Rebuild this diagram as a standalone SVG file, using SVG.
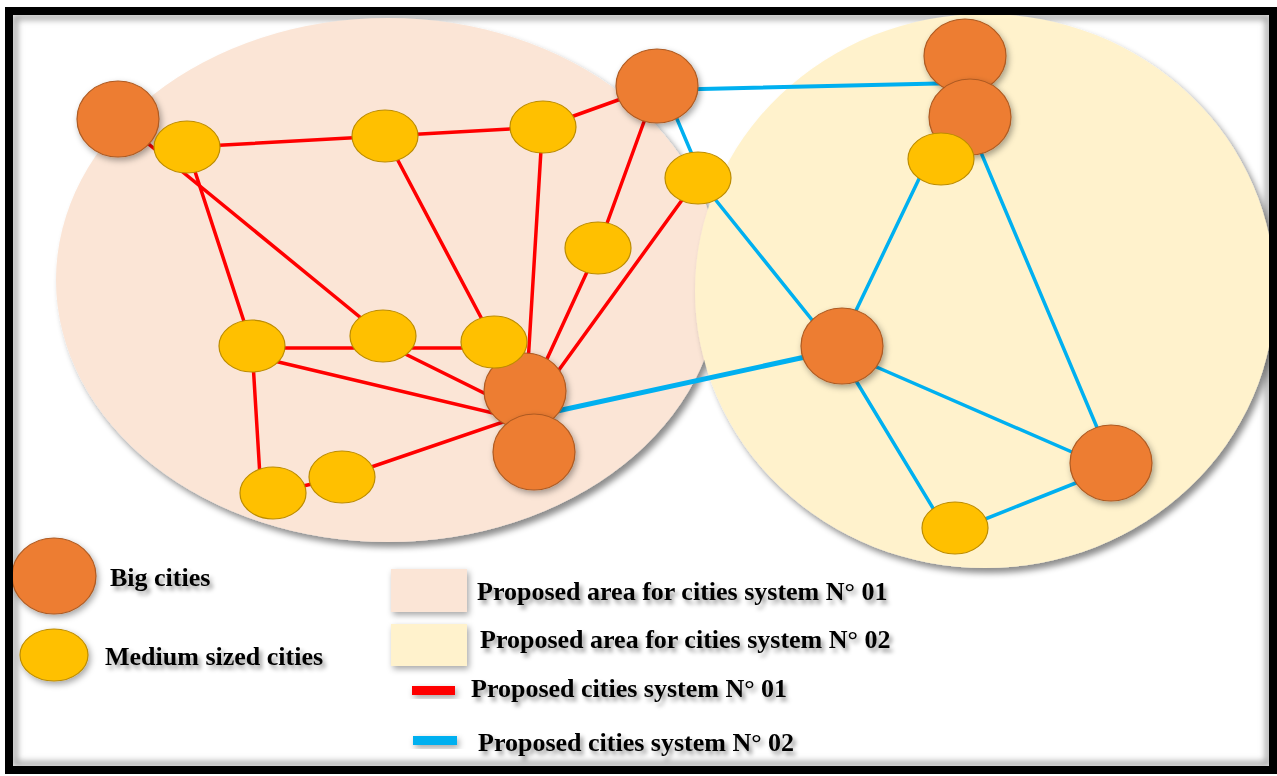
<svg xmlns="http://www.w3.org/2000/svg" width="1277" height="776" viewBox="0 0 1277 776">
  <defs>
    <filter id="areaShadow" x="-10%" y="-10%" width="125%" height="125%">
      <feDropShadow dx="4" dy="5" stdDeviation="3" flood-color="#000" flood-opacity="0.45"/>
    </filter>
    <filter id="nodeShadow" x="-30%" y="-30%" width="170%" height="170%">
      <feDropShadow dx="2" dy="3" stdDeviation="3" flood-color="#000" flood-opacity="0.35"/>
    </filter>
    <filter id="textShadow" x="-5%" y="-30%" width="115%" height="170%">
      <feDropShadow dx="3" dy="4" stdDeviation="2.2" flood-color="#000" flood-opacity="0.4"/>
    </filter>
    <filter id="soft" x="-5%" y="-5%" width="110%" height="110%">
      <feGaussianBlur stdDeviation="3"/>
    </filter>
    <style>
      .big { fill: #ED7D31; stroke: #AE5A21; stroke-width: 1.2; }
      .med { fill: #FFC000; stroke: #BC8C00; stroke-width: 1.2; }
      .red { stroke: #FF0000; stroke-width: 3.5; stroke-linecap: round; fill: none; }
      .blue { stroke: #00B0F0; stroke-width: 3.5; stroke-linecap: round; fill: none; }
      .lbl { font-family: "Liberation Serif", "Times New Roman", serif; font-weight: bold; font-size: 26px; fill: #000; }
    </style>
  </defs>

  <!-- page background and framed border with inner shade -->
  <rect x="0" y="0" width="1277" height="776" fill="#FFFFFF"/>
  <rect x="15" y="17" width="1253" height="747" fill="none" stroke="#9a9a9a" stroke-width="5" filter="url(#soft)"/>

  <!-- proposed areas -->
  <g id="area-01">
    <ellipse cx="388" cy="280" rx="332" ry="262" fill="#FBE5D6" filter="url(#areaShadow)"/>
  </g>
  <g id="area-02">
    <ellipse cx="985" cy="291" rx="290" ry="277" fill="#FFF2CC" filter="url(#areaShadow)"/>
  </g>

  <!-- connectors -->
  <g id="connectors">
    <g id="system-01">
      <line class="red" x1="118" y1="119" x2="383" y2="336"/>
      <line class="red" x1="187" y1="147" x2="385" y2="136"/>
      <line class="red" x1="385" y1="136" x2="543" y2="127"/>
      <line class="red" x1="543" y1="127" x2="657" y2="86"/>
      <line class="red" x1="187" y1="147" x2="252" y2="346"/>
      <line class="red" x1="385" y1="136" x2="494" y2="342"/>
      <line class="red" x1="541" y1="150" x2="527" y2="380"/>
      <line class="red" x1="657" y1="86" x2="598" y2="248"/>
      <line class="red" x1="598" y1="248" x2="535" y2="385"/>
      <line class="red" x1="698" y1="178" x2="548" y2="385"/>
      <line class="red" x1="252" y1="348" x2="383" y2="348"/>
      <line class="red" x1="383" y1="348" x2="494" y2="348"/>
      <line class="red" x1="383" y1="343" x2="510" y2="406"/>
      <line class="red" x1="270" y1="360" x2="510" y2="417"/>
      <line class="red" x1="252" y1="346" x2="261" y2="493"/>
      <line class="red" x1="273" y1="493" x2="342" y2="477"/>
      <line class="red" x1="342" y1="477" x2="515" y2="418"/>
    </g>
    <g id="system-02">
      <line class="blue" x1="660" y1="90" x2="960" y2="83" style="stroke-width:4"/>
      <line class="blue" x1="663" y1="86" x2="702" y2="178"/>
      <line class="blue" x1="698" y1="178" x2="833" y2="346"/>
      <line class="blue" x1="929" y1="158" x2="839" y2="346"/>
      <line class="blue" x1="966" y1="117" x2="1112" y2="463"/>
      <line class="blue" x1="842" y1="352" x2="1111" y2="469"/>
      <line class="blue" x1="835" y1="346" x2="945" y2="528"/>
      <line class="blue" x1="955" y1="531" x2="1111" y2="469"/>
      <line class="blue" x1="525" y1="418" x2="842" y2="349" style="stroke-width:5"/>
    </g>
  </g>

  <!-- big cities -->
  <g id="big-a"><ellipse class="big" cx="118" cy="119" rx="41" ry="38" filter="url(#nodeShadow)"/></g>
  <g id="big-b"><ellipse class="big" cx="657" cy="86" rx="41" ry="37" filter="url(#nodeShadow)"/></g>
  <g id="big-c"><ellipse class="big" cx="965" cy="56" rx="41" ry="37" filter="url(#nodeShadow)"/></g>
  <g id="big-d"><ellipse class="big" cx="970" cy="117" rx="41" ry="38" filter="url(#nodeShadow)"/></g>
  <g id="big-e"><ellipse class="big" cx="842" cy="346" rx="41" ry="38" filter="url(#nodeShadow)"/></g>
  <g id="big-f"><ellipse class="big" cx="1111" cy="463" rx="41" ry="38" filter="url(#nodeShadow)"/></g>
  <g id="big-g"><ellipse class="big" cx="525" cy="391" rx="41" ry="38" filter="url(#nodeShadow)"/></g>
  <g id="big-h"><ellipse class="big" cx="534" cy="452" rx="41" ry="38" filter="url(#nodeShadow)"/></g>

  <!-- medium sized cities -->
  <g id="med-1"><ellipse class="med" cx="187" cy="147" rx="33" ry="26"/></g>
  <g id="med-2"><ellipse class="med" cx="385" cy="136" rx="33" ry="26"/></g>
  <g id="med-3"><ellipse class="med" cx="543" cy="127" rx="33" ry="26"/></g>
  <g id="med-4"><ellipse class="med" cx="698" cy="178" rx="33" ry="26"/></g>
  <g id="med-5"><ellipse class="med" cx="598" cy="248" rx="33" ry="26"/></g>
  <g id="med-6"><ellipse class="med" cx="252" cy="346" rx="33" ry="26"/></g>
  <g id="med-7"><ellipse class="med" cx="383" cy="336" rx="33" ry="26"/></g>
  <g id="med-8"><ellipse class="med" cx="494" cy="342" rx="33" ry="26"/></g>
  <g id="med-9"><ellipse class="med" cx="273" cy="493" rx="33" ry="26"/></g>
  <g id="med-10"><ellipse class="med" cx="342" cy="477" rx="33" ry="26"/></g>
  <g id="med-11"><ellipse class="med" cx="941" cy="159" rx="33" ry="26"/></g>
  <g id="med-12"><ellipse class="med" cx="955" cy="528" rx="33" ry="26"/></g>

  <!-- legend -->
  <g id="legend">
    <ellipse class="big" cx="54" cy="576" rx="42" ry="38" filter="url(#nodeShadow)"/>
    <text class="lbl" x="110" y="586" filter="url(#textShadow)">Big cities</text>
    <ellipse class="med" cx="54" cy="655" rx="34" ry="26" filter="url(#nodeShadow)"/>
    <text class="lbl" x="105" y="665" filter="url(#textShadow)">Medium sized cities</text>

    <rect x="391" y="569" width="76" height="43" fill="#FBE5D6" filter="url(#nodeShadow)"/>
    <text class="lbl" x="477" y="600" filter="url(#textShadow)">Proposed area for cities system N° 01</text>
    <rect x="391" y="624" width="76" height="42" fill="#FFF2CC" filter="url(#nodeShadow)"/>
    <text class="lbl" x="480" y="648" filter="url(#textShadow)">Proposed area for cities system N° 02</text>
    <rect x="412" y="686" width="43" height="9" fill="#FF0000" filter="url(#nodeShadow)"/>
    <text class="lbl" x="471" y="697" filter="url(#textShadow)">Proposed cities system N° 01</text>
    <rect x="413" y="736" width="44" height="9" fill="#00B0F0" filter="url(#nodeShadow)"/>
    <text class="lbl" x="478" y="751" filter="url(#textShadow)">Proposed cities system N° 02</text>
  </g>

  <!-- outer frame -->
  <rect x="9" y="11" width="1264" height="759" fill="none" stroke="#000000" stroke-width="8"/>
</svg>
